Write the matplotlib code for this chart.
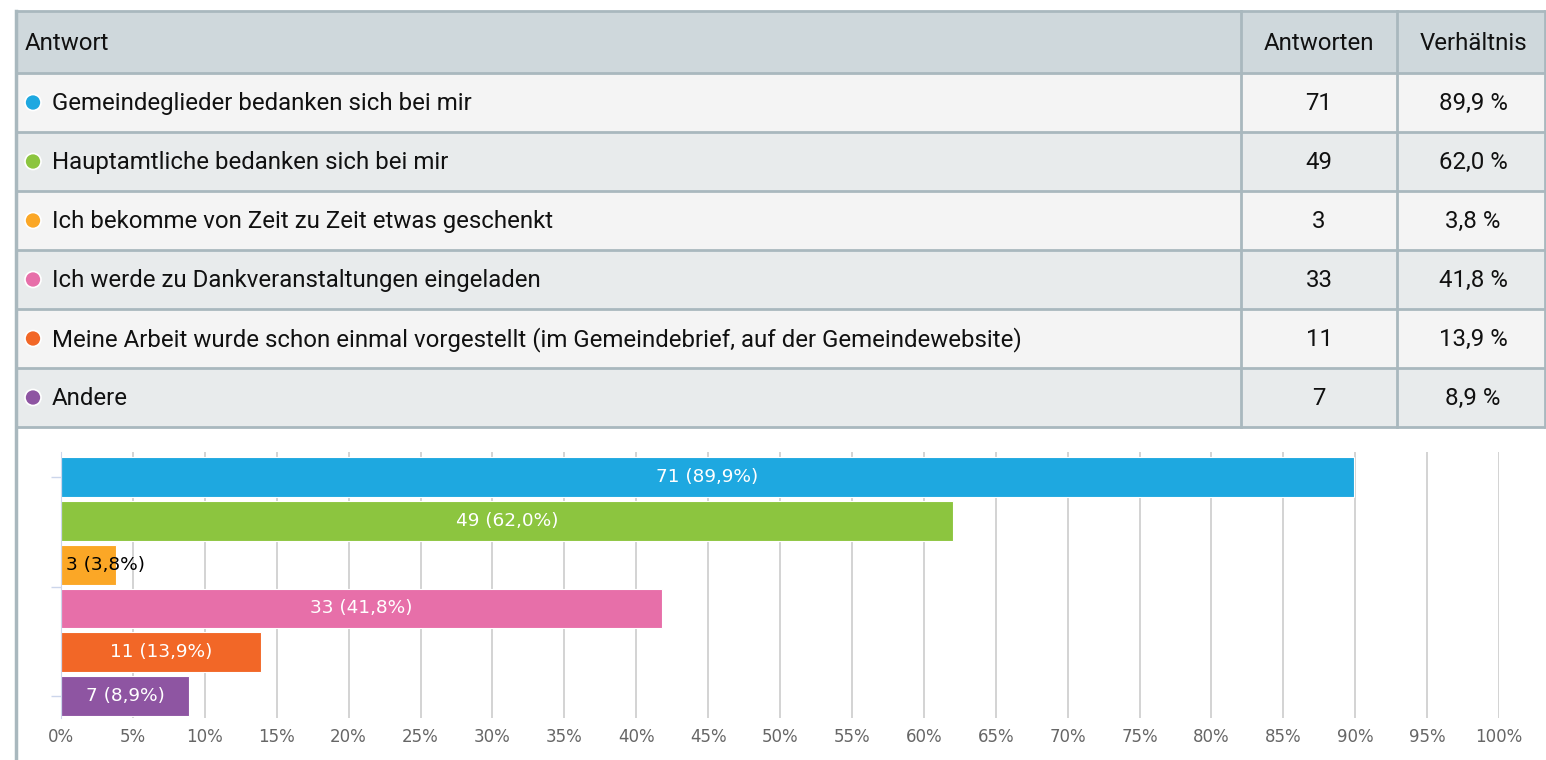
import matplotlib.pyplot as plt
from matplotlib.patches import Rectangle, Circle

# data
answers = [
    "Gemeindeglieder bedanken sich bei mir",
    "Hauptamtliche bedanken sich bei mir",
    "Ich bekomme von Zeit zu Zeit etwas geschenkt",
    "Ich werde zu Dankveranstaltungen eingeladen",
    "Meine Arbeit wurde schon einmal vorgestellt (im Gemeindebrief, auf der Gemeindewebsite)",
    "Andere",
]
counts = [71, 49, 3, 33, 11, 7]
shares = [89.9, 62.0, 3.8, 41.8, 13.9, 8.9]
colors = ["#1ea8e0", "#8cc53f", "#fba726", "#e76fa9", "#f26727", "#8e55a2"]
headers = ["Antwort", "Antworten", "Verhältnis"]
x_ticks = list(range(0, 101, 5))

W, H = 1546, 760
fig = plt.figure(figsize=(W / 100, H / 100), dpi=100)

# table drawn in pixel coordinates
tab = fig.add_axes([0, 0, 1, 1])
tab.set_xlim(0, W)
tab.set_ylim(H, 0)
tab.axis("off")

table_font = ["Liberation Sans Narrow", "Roboto", "DejaVu Sans"]
border = "#a9b8be"
left, right = 16, 1545
col1, col2 = 1241, 1397
top, head_h, row_h = 11, 62, 59

tab.add_patch(Rectangle((left, top), right - left, head_h, facecolor="#cfd8dc", edgecolor="none"))
for i in range(len(answers)):
    y0 = top + head_h + i * row_h
    bg = "#f4f4f4" if i % 2 == 0 else "#e8ebec"
    tab.add_patch(Rectangle((left, y0), right - left, row_h, facecolor=bg, edgecolor="none"))

bottom = top + head_h + len(answers) * row_h
for k in range(len(answers) + 2):
    y = top + k * row_h + (head_h - row_h if k > 0 else 0)
    tab.plot([left, right], [y, y], color=border, lw=2, solid_capstyle="butt")
tab.plot([left, left], [top, H], color=border, lw=2.5)
tab.plot([right, right], [top, bottom], color=border, lw=2)
for cx in (col1, col2):
    tab.plot([cx, cx], [top, bottom], color=border, lw=2)

fs = 17.3
tab.text(25, top + head_h / 2 + 1, headers[0], fontsize=fs, family=table_font, va="center", ha="left", color="#111")
tab.text((col1 + col2) / 2, top + head_h / 2 + 1, headers[1], fontsize=fs, family=table_font, va="center", ha="center", color="#111")
tab.text((col2 + right) / 2 + 2, top + head_h / 2 + 1, headers[2], fontsize=fs, family=table_font, va="center", ha="center", color="#111")

for i, (a, n, p, c) in enumerate(zip(answers, counts, shares, colors)):
    yc = top + head_h + i * row_h + row_h / 2
    tab.add_patch(Circle((33, yc), 8, facecolor=c, edgecolor="white", lw=1.2))
    tab.text(52, yc + 1, a, fontsize=fs, family=table_font, va="center", ha="left", color="#111")
    tab.text((col1 + col2) / 2, yc + 1, str(n), fontsize=fs, family=table_font, va="center", ha="center", color="#111")
    tab.text((col2 + right) / 2 + 2, yc + 1, f"{p:.1f} %".replace(".", ","), fontsize=fs,
             family=table_font, va="center", ha="center", color="#111")

# bar chart
x0, x1 = 61, 1499
y_top, y_bot = 452, 718
ax = fig.add_axes([x0 / W, 1 - y_bot / H, (x1 - x0) / W, (y_bot - y_top) / H])
ax.patch.set_alpha(0)
pos = list(range(len(answers)))
ax.barh(pos, shares, height=0.91, color=colors, edgecolor="white", lw=0.8, zorder=2)
ax.set_xlim(0, 100)
ax.set_ylim(5.5, -0.57)
ax.set_xticks(x_ticks)
ax.set_xticklabels([f"{t}%" for t in x_ticks])
ax.tick_params(axis="x", length=0, pad=7, labelsize=12, labelcolor="#666666")
ax.set_yticks([0, 2.5, 5])
ax.set_yticklabels([])
ax.tick_params(axis="y", length=7, color="#ccd6eb", width=1)
ax.grid(axis="x", color="#cccccc", lw=1.2, zorder=0)
for s in ("top", "right", "bottom"):
    ax.spines[s].set_visible(False)
ax.spines["left"].set_color("#ccd6eb")

for i, (n, p) in enumerate(zip(counts, shares)):
    label = f"{n} ({p:.1f}%)".replace(".", ",")
    if p < 5:
        ax.text(0.35, i, label, ha="left", va="center", fontsize=13.3, color="black", zorder=3)
    else:
        ax.text(p / 2, i, label, ha="center", va="center", fontsize=13.3, color="white", zorder=3)

fig.savefig("out.png", dpi=100)
